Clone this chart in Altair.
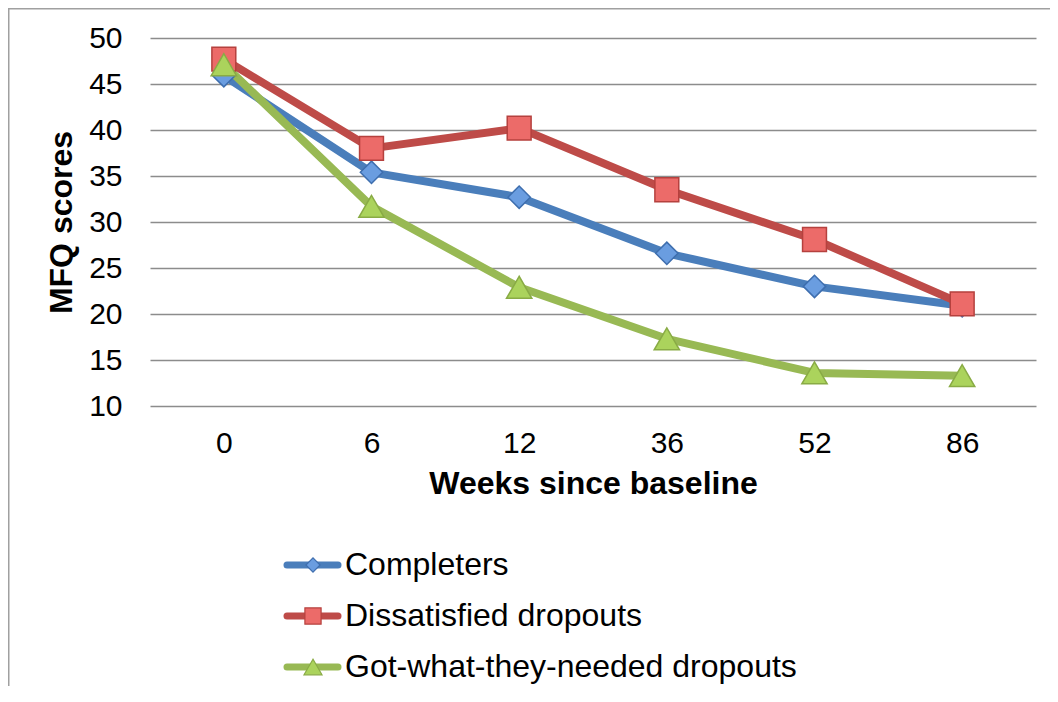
import altair as alt
import pandas as pd

weeks = ["0", "6", "12", "36", "52", "86"]
series = ["Completers", "Dissatisfied dropouts", "Got-what-they-needed dropouts"]
completers = [45.9, 35.4, 32.7, 26.6, 23.0, 20.9]
dissatisfied = [47.7, 38.0, 40.2, 33.5, 28.1, 21.1]
got_what = [47.1, 31.7, 22.9, 17.3, 13.6, 13.3]
y_ticks = [10, 15, 20, 25, 30, 35, 40, 45, 50]

line_colors = ["#4a7ebb", "#be4b48", "#98b954"]
marker_fills = ["#6a9de0", "#ec6b69", "#abd35c"]
marker_strokes = ["#3e6eae", "#b5413e", "#89ab45"]
shapes = ["diamond", "square", "triangle-up"]
marker_sizes = [500, 640, 713]
legend_sizes = [200, 324, 361]

FONT = "Liberation Sans, Arial, sans-serif"

rows = []
for s, vals in zip(series, [completers, dissatisfied, got_what]):
    for i, (w, v) in enumerate(zip(weeks, vals)):
        rows.append({"series": s, "week": w, "score": v, "idx": i})
df = pd.DataFrame(rows)
legend_df = pd.DataFrame({"series": series})

color_scale = alt.Scale(domain=series, range=line_colors)
fill_scale = alt.Scale(domain=series, range=marker_fills)
stroke_scale = alt.Scale(domain=series, range=marker_strokes)
shape_scale = alt.Scale(domain=series, range=shapes)

x_axis = alt.Axis(title="Weeks since baseline", labelAngle=0, domain=False, ticks=False,
                  grid=False, labelFontSize=30, titleFontSize=32, titleFontWeight="bold",
                  labelPadding=22, titlePadding=10, labelFont=FONT, titleFont=FONT,
                  labelColor="black", titleColor="black")
y_axis = alt.Axis(values=y_ticks, title="MFQ scores", domain=False, ticks=False,
                  grid=True, gridColor="#8c8c8c", gridWidth=1.5,
                  labelFontSize=30, titleFontSize=32, titleFontWeight="bold",
                  labelPadding=28, titlePadding=10, labelFont=FONT, titleFont=FONT,
                  labelColor="black", titleColor="black")
x_scale = alt.Scale(type="point", padding=0.5)
y_scale = alt.Scale(domain=[10, 50], nice=False, zero=False)

lines = alt.Chart(df).mark_line(strokeWidth=8, strokeJoin="round").encode(
    x=alt.X("week:O", sort=weeks, scale=x_scale, axis=x_axis),
    y=alt.Y("score:Q", scale=y_scale, axis=y_axis),
    color=alt.Color("series:N", scale=color_scale, legend=None),
    order=alt.Order("idx:Q"),
)

points = alt.Chart(df).mark_point(filled=True, opacity=1, strokeWidth=1.5).encode(
    x=alt.X("week:O", sort=weeks, scale=x_scale, axis=x_axis),
    y=alt.Y("score:Q", scale=y_scale, axis=y_axis),
    shape=alt.Shape("series:N", scale=shape_scale, legend=None),
    fill=alt.Fill("series:N", scale=fill_scale, legend=None),
    stroke=alt.Stroke("series:N", scale=stroke_scale, legend=None),
    size=alt.Size("series:N", scale=alt.Scale(domain=series, range=marker_sizes), legend=None),
)

main = alt.layer(lines, points)

border = alt.Chart(pd.DataFrame({"k": [0]})).mark_rect(
    fillOpacity=0, stroke="#a0a0a0", strokeWidth=1.5
).encode(
    x=alt.value(-141.25), x2=alt.value(950), y=alt.value(-29.25), y2=alt.value(700)
)

leg_y = alt.Y("series:N", scale=alt.Scale(type="point", domain=series, range=[527, 629], padding=0), axis=None)

leg_rule = alt.Chart(legend_df).mark_rule(strokeWidth=7, strokeCap="round").encode(
    x=alt.value(137), x2=alt.value(188), y=leg_y,
    color=alt.Color("series:N", scale=color_scale, legend=None),
)
leg_pts = alt.Chart(legend_df).mark_point(filled=True, opacity=1, strokeWidth=1.2).encode(
    x=alt.value(163), y=leg_y,
    shape=alt.Shape("series:N", scale=shape_scale, legend=None),
    fill=alt.Fill("series:N", scale=fill_scale, legend=None),
    stroke=alt.Stroke("series:N", scale=stroke_scale, legend=None),
    size=alt.Size("series:N", scale=alt.Scale(domain=series, range=legend_sizes), legend=None),
)
leg_text = alt.Chart(legend_df).mark_text(
    align="left", baseline="middle", fontSize=32, font=FONT, color="black"
).encode(x=alt.value(195), y=leg_y, text="series:N")

legend = alt.layer(leg_rule, leg_pts, leg_text).resolve_scale(size="independent")

chart = alt.layer(main, legend, border).resolve_scale(
    y="independent", size="independent"
).properties(
    width=886, height=368,
    background="white",
    autosize=alt.AutoSizeParams(type="none"),
    padding={"left": 142, "top": 30, "right": 14, "bottom": 280},
).configure_view(strokeWidth=0, stroke="transparent")

chart.save("out.html", embed_options={"renderer": "svg", "actions": False})
